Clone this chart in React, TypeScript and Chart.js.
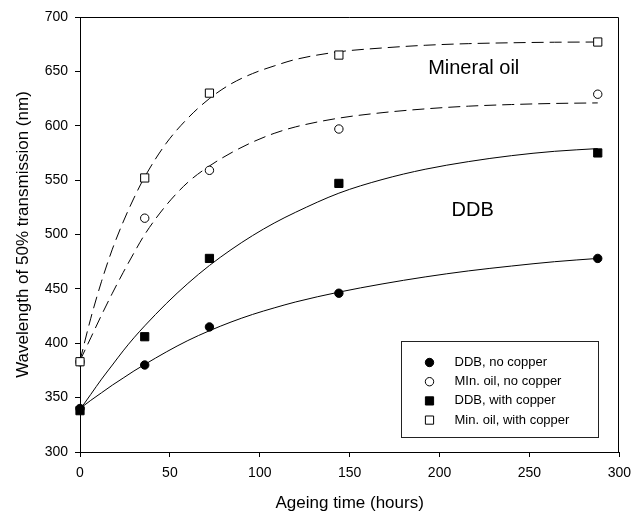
import { useEffect, useRef } from "react";
import { Chart, registerables } from "chart.js";

Chart.register(...registerables);

const FONT = "Arial, 'Liberation Sans', Helvetica, sans-serif";

// Measured data (hours vs wavelength nm)
const measuredHours = [0, 36, 72, 144, 288];
const ddbNoCopper = [340, 380, 415, 446, 478];
const minOilNoCopper = [383, 515, 559, 597, 629];
const ddbWithCopper = [338, 406, 478, 547, 575];
const minOilWithCopper = [383, 552, 630, 665, 677];

// Fitted curves
const fitHours = [0, 6, 12, 18, 24, 30, 36, 48, 60, 72, 84, 96, 108, 120, 144, 168, 192, 216, 240, 264, 288];
const fitDdbNoCopper = [340, 347.5, 354.5, 361.5, 368, 374.5, 380.5, 392, 402.5, 411.5, 419.5, 426.5, 432.5, 438, 447, 454.5, 461, 466.5, 471, 475, 478];
const fitMinOilNoCopper = [384, 405, 426, 446, 465, 483, 500, 527, 548, 563, 575, 585, 593, 599, 607, 612, 615.5, 618, 619.5, 620.5, 621];
const fitDdbWithCopper = [339, 353, 367, 380, 393, 405, 416, 436.5, 455, 471.5, 486, 499, 510.5, 520.5, 538, 550.5, 560, 567, 572.5, 576.5, 579];
const fitMinOilWithCopper = [384, 423, 457, 486.5, 511.5, 533.5, 553, 584, 607, 625, 638.5, 648, 655, 661, 668, 671.5, 674, 675.5, 676.3, 676.8, 677];

const xTickValues = [0, 50, 100, 150, 200, 250, 300];
const yTickValues = [300, 350, 400, 450, 500, 550, 600, 650, 700];

const legendLabels = ["DDB, no copper", "MIn. oil, no copper", "DDB, with copper", "Min. oil, with copper"];

const annotations = [
  { text: "Mineral oil", x: 219, y: 652.5 },
  { text: "DDB", x: 218.4, y: 522.5 },
];

const toPts = (xs: number[], ys: number[]) => xs.map((x, i) => ({ x, y: ys[i] }));

const markerStyles = [
  { style: "circle", fill: "#000", radius: 4.2 },
  { style: "circle", fill: "#fff", radius: 4.2 },
  { style: "rect", fill: "#000", radius: 5.8 },
  { style: "rect", fill: "#fff", radius: 5.8 },
];

const overlayPlugin = {
  id: "overlay",
  afterDatasetsDraw(chart: any) {
    const { ctx, chartArea: a, scales } = chart;
    ctx.save();
    // frame: top and right
    ctx.strokeStyle = "#000";
    ctx.lineWidth = 1;
    ctx.beginPath();
    const top = Math.round(a.top) + 0.5;
    const right = Math.round(a.right) - 0.5;
    ctx.moveTo(Math.round(a.left), top);
    ctx.lineTo(right, top);
    ctx.lineTo(right, Math.round(a.bottom));
    ctx.stroke();

    // annotations
    ctx.fillStyle = "#000";
    ctx.font = `20px ${FONT}`;
    ctx.textAlign = "center";
    ctx.textBaseline = "middle";
    for (const an of annotations) {
      ctx.fillText(an.text, scales.x.getPixelForValue(an.x), scales.y.getPixelForValue(an.y));
    }

    // legend
    const bw = 197, bh = 96;
    const bx = Math.round(a.right - 21 - bw) + 0.5;
    const by = Math.round(a.bottom - 15 - bh) + 0.5;
    ctx.fillStyle = "#fff";
    ctx.fillRect(bx, by, bw, bh);
    ctx.strokeStyle = "#222";
    ctx.strokeRect(bx, by, bw, bh);
    ctx.font = `13px ${FONT}`;
    ctx.textAlign = "left";
    ctx.textBaseline = "middle";
    legendLabels.forEach((lab, i) => {
      const cy = by + 21 + i * 19.2;
      const cx = bx + 28;
      const m = markerStyles[i];
      ctx.fillStyle = m.fill;
      ctx.strokeStyle = "#000";
      ctx.lineWidth = 1;
      ctx.beginPath();
      if (m.style === "circle") {
        ctx.arc(cx, cy, m.radius, 0, Math.PI * 2);
      } else {
        const s = m.radius * Math.SQRT1_2;
        ctx.rect(cx - s, cy - s, 2 * s, 2 * s);
      }
      ctx.fill();
      ctx.stroke();
      ctx.fillStyle = "#000";
      ctx.fillText(lab, bx + 53, cy);
    });
    ctx.restore();
  },
};

export default function App() {
  const ref = useRef<HTMLCanvasElement>(null);
  useEffect(() => {
    const markerSeries = [ddbNoCopper, minOilNoCopper, ddbWithCopper, minOilWithCopper];
    const fitSeries = [fitDdbNoCopper, fitMinOilNoCopper, fitDdbWithCopper, fitMinOilWithCopper];
    const fitDash = [[], [12, 6], [], [12, 6]];

    const markerDatasets = markerSeries.map((ys, i) => ({
      label: legendLabels[i],
      data: toPts(measuredHours, ys),
      showLine: false,
      pointStyle: markerStyles[i].style,
      pointRadius: markerStyles[i].radius,
      pointBackgroundColor: markerStyles[i].fill,
      pointBorderColor: "#000",
      pointBorderWidth: 1,
      clip: false,
      order: i === 3 ? 0 : i === 1 ? 1 : 2,
    }));
    const fitDatasets = fitSeries.map((ys, i) => ({
      label: "fit " + legendLabels[i],
      data: toPts(fitHours, ys),
      showLine: true,
      pointRadius: 0,
      borderColor: "#000",
      borderWidth: 1,
      borderDash: fitDash[i],
      cubicInterpolationMode: "monotone",
      fill: false,
      order: 5,
    }));

    const tickFont = { family: FONT, size: 14 };
    const titleFont = { family: FONT, size: 17 };

    const chart = new Chart(ref.current!, {
      type: "scatter",
      data: { datasets: [...markerDatasets, ...fitDatasets] as any },
      options: {
        animation: false,
        responsive: false,
        events: [],
        layout: { padding: { left: 0, top: 17, right: 15, bottom: 0 } },
        plugins: { legend: { display: false }, tooltip: { enabled: false } },
        scales: {
          x: {
            type: "linear",
            min: xTickValues[0],
            max: xTickValues[xTickValues.length - 1],
            afterBuildTicks: (s: any) => {
              s.ticks = xTickValues.map((v) => ({ value: v }));
            },
            ticks: { color: "#000", font: tickFont, padding: 8, maxRotation: 0, autoSkip: false },
            grid: { display: true, drawOnChartArea: false, drawTicks: true, tickLength: 5, color: "#000" },
            border: { display: true, color: "#000", width: 1 },
            title: { display: true, text: "Ageing time (hours)", color: "#000", font: titleFont, padding: { top: 0, bottom: 0 } },
            afterFit: (s: any) => {
              s.height = 62;
            },
          },
          y: {
            type: "linear",
            min: yTickValues[0],
            max: yTickValues[yTickValues.length - 1],
            afterBuildTicks: (s: any) => {
              s.ticks = yTickValues.map((v) => ({ value: v }));
            },
            ticks: { color: "#000", font: tickFont, padding: 7, autoSkip: false },
            grid: { display: true, drawOnChartArea: false, drawTicks: true, tickLength: 5, color: "#000" },
            border: { display: true, color: "#000", width: 1 },
            title: { display: true, text: "Wavelength of 50% transmission (nm)", color: "#000", font: titleFont, padding: { top: 13, bottom: 0 } },
            afterFit: (s: any) => {
              s.width = 80;
            },
          },
        },
      },
      plugins: [overlayPlugin],
    });
    return () => chart.destroy();
  }, []);

  return (
    <div style={{ position: "fixed", left: 0, top: 0, width: 639, height: 514, background: "#fff" }}>
      <canvas ref={ref} width={639} height={514} style={{ display: "block" }} />
    </div>
  );
}
